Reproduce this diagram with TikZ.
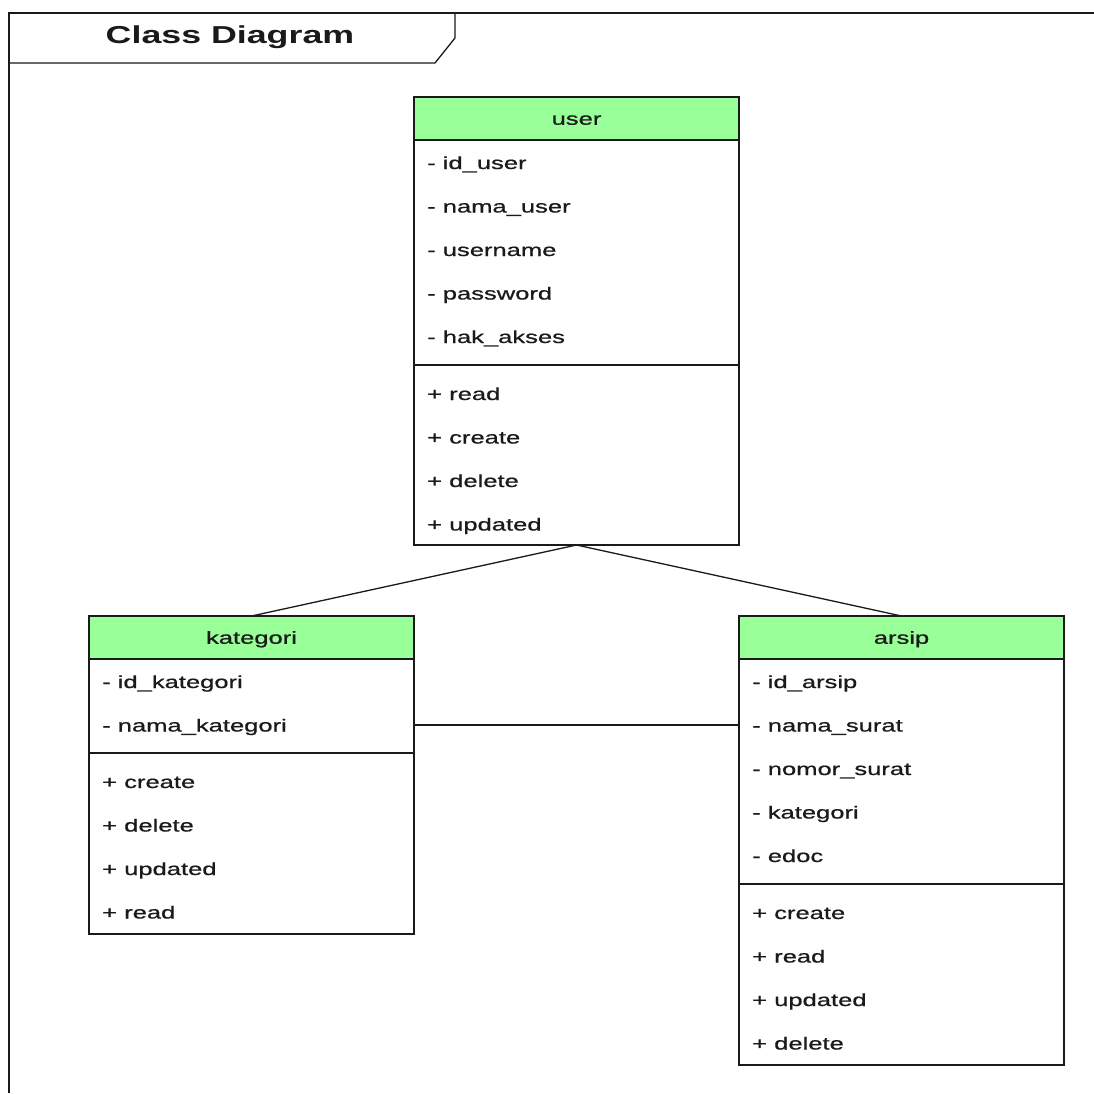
\documentclass[tikz,border=0pt]{standalone}
\usepackage{fontspec}
\usetikzlibrary{calc, positioning}
\newfontfamily\umlfont[FakeStretch=1.46]{Liberation Sans}
\newfontfamily\memberfont[FakeStretch=1.46, FakeBold=0.8]{Liberation Sans}
\definecolor{headgreen}{HTML}{99FF99}
\definecolor{ink}{HTML}{1A1A1A}
\tikzset{
	umlbox/.style={draw=ink, line width=1.3pt, anchor=north west, minimum width=325pt, inner sep=0pt, outer sep=0pt},
	classhead/.style={umlbox, fill=headgreen, minimum height=43pt, text height=12.5pt, text depth=0pt, text=ink, font=\memberfont\fontsize{17.5pt}{21pt}\selectfont},
	member/.style={anchor=base west, inner sep=0pt, text=ink, font=\memberfont\fontsize{17.5pt}{21pt}\selectfont},
	link/.style={draw=ink, line width=1.3pt},
}

\begin{document}
\begin{tikzpicture}[x=1pt, y=-1pt]
	\fill[white] (0,0) rectangle (1094,1093);
	\useasboundingbox (0,0) rectangle (1094,1093);
	
	% frame and its tab
	\draw[ink, line width=1.3pt] (1094,13) -- (9,13) -- (9,1093);
	\draw[ink, line width=1.3pt] (9,63) -- (435,63) -- (455,38) -- (455,13);
	\node[anchor=base, inner sep=0pt, text=ink, font=\umlfont\bfseries\fontsize{24.5pt}{28pt}\selectfont] (title) at (230,43) {Class Diagram};
	
	% user
	\node[classhead] (user) at (414,97) {user};
	\node[umlbox, minimum height=225pt] (userattr) at (user.south west) {};
	\node[umlbox, minimum height=180pt] (userops) at (userattr.south west) {};
	\foreach \m [count=\i] in {- id\_user, - nama\_user, - username, - password, - hak\_akses}
		\node[member] (user-a\i) at ($(userattr.north west)+(13,{29+43.5*(\i-1)})$) {\m};
	\foreach \m [count=\i] in {+ read, + create, + delete, + updated}
		\node[member] (user-o\i) at ($(userops.north west)+(13,{35+43.5*(\i-1)})$) {\m};
	
	% kategori
	\node[classhead] (kat) at (89,616) {kategori};
	\node[umlbox, minimum height=94pt] (katattr) at (kat.south west) {};
	\node[umlbox, minimum height=181pt] (katops) at (katattr.south west) {};
	\foreach \m [count=\i] in {- id\_kategori, - nama\_kategori}
		\node[member] (kat-a\i) at ($(katattr.north west)+(13,{29+43.5*(\i-1)})$) {\m};
	\foreach \m [count=\i] in {+ create, + delete, + updated, + read}
		\node[member] (kat-o\i) at ($(katops.north west)+(13,{35+43.5*(\i-1)})$) {\m};
	
	% arsip
	\node[classhead] (arsip) at (739,616) {arsip};
	\node[umlbox, minimum height=225pt] (arsipattr) at (arsip.south west) {};
	\node[umlbox, minimum height=181pt] (arsipops) at (arsipattr.south west) {};
	\foreach \m [count=\i] in {- id\_arsip, - nama\_surat, - nomor\_surat, - kategori, - edoc}
		\node[member] (arsip-a\i) at ($(arsipattr.north west)+(13,{29+43.5*(\i-1)})$) {\m};
	\foreach \m [count=\i] in {+ create, + read, + updated, + delete}
		\node[member] (arsip-o\i) at ($(arsipops.north west)+(13,{35+43.5*(\i-1)})$) {\m};
	
	% associations
	\draw[link] (userops.south) -- (kat.north);
	\draw[link] (userops.south) -- (arsip.north);
	\draw[link] ([yshift=-19pt]katattr.east) -- ([yshift=-19pt]katattr.east -| arsipattr.west);
\end{tikzpicture}
\end{document}
